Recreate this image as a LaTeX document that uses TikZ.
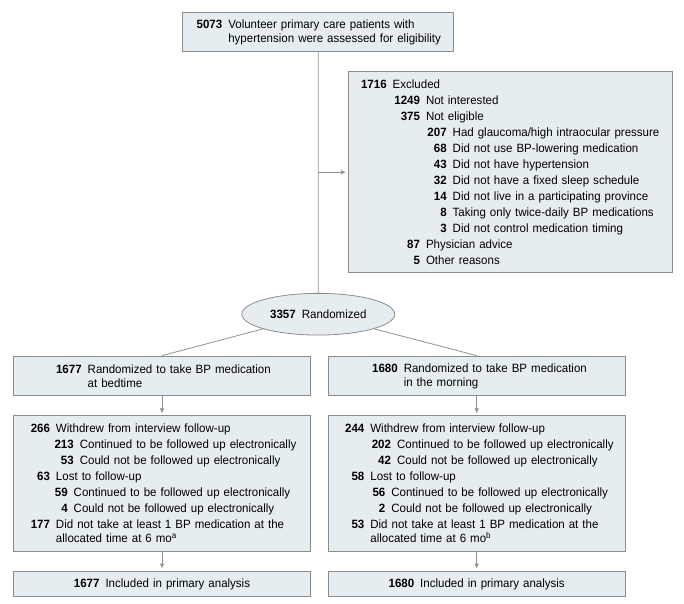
\documentclass[tikz,border=0pt]{standalone}
\usepackage{fontspec}
\setmainfont{Liberation Sans}[FakeStretch=0.96]
\usetikzlibrary{arrows.meta,shapes.geometric}
\definecolor{boxfill}{HTML}{E6EDF1}
\definecolor{boxline}{HTML}{8C8C8C}
\definecolor{wire}{HTML}{909090}
\newcommand{\chartfont}{\fontsize{12bp}{14bp}\selectfont}
% bold count, right-aligned at #1 from the box edge
\newcommand{\nr}[2]{\makebox[#1][r]{\textbf{#2}}\hspace{6bp}}
\begin{document}
\begin{tikzpicture}[x=1bp,y=-1bp,
    box/.style={draw=boxline,fill=boxfill,line width=0.8bp,inner xsep=0pt,inner ysep=0pt,align=left,font=\chartfont},
    line/.style={draw=wire,line width=0.8bp},
    arr/.style={line,-{Latex[length=5bp,width=4.5bp]},shorten >=2bp}]
  \useasboundingbox (0,0) rectangle (684,604);
  \node[box,text width=271bp,minimum height=38.3bp] (screen) at (318.2,31.9)
    {\nr{39.6bp}{5073}Volunteer primary care patients with\\
     \hspace*{45.6bp}hypertension were assessed for eligibility};
  \node[box,text width=324bp,minimum height=201bp] (excl) at (510.3,172.2)
    {\nr{38.4bp}{1716}Excluded\\[2bp]
     \nr{71.7bp}{1249}Not interested\\[2bp]
     \nr{71.7bp}{375}Not eligible\\[2bp]
     \nr{98.4bp}{207}Had glaucoma/high intraocular pressure\\[2bp]
     \nr{98.4bp}{68}Did not use BP-lowering medication\\[2bp]
     \nr{98.4bp}{43}Did not have hypertension\\[2bp]
     \nr{98.4bp}{32}Did not have a fixed sleep schedule\\[2bp]
     \nr{98.4bp}{14}Did not live in a participating province\\[2bp]
     \nr{98.4bp}{8}Taking only twice-daily BP medications\\[2bp]
     \nr{98.4bp}{3}Did not control medication timing\\[2bp]
     \nr{71.7bp}{87}Physician advice\\[2bp]
     \nr{71.7bp}{5}Other reasons};
  \node[box,ellipse,align=center,minimum width=153bp,minimum height=41.7bp] (rand) at (318.3,314.2)
    {\textbf{3357}\hspace{6bp}Randomized};
  \node[box,text width=297.4bp,minimum height=39.7bp] (bed) at (162,375.9)
    {\nr{68.4bp}{1677}Randomized to take BP medication\\
     \hspace*{74.4bp}at bedtime};
  \node[box,text width=296.7bp,minimum height=39.7bp] (morn) at (476.7,375.9)
    {\nr{69.4bp}{1680}Randomized to take BP medication\\
     \hspace*{75.4bp}in the morning};
  \node[box,text width=297.4bp,minimum height=135.3bp] (bedfu) at (162,483.4)
    {\nr{36.7bp}{266}Withdrew from interview follow-up\\[2bp]
     \nr{60.5bp}{213}Continued to be followed up electronically\\[2bp]
     \nr{60.5bp}{53}Could not be followed up electronically\\[2bp]
     \nr{36.7bp}{63}Lost to follow-up\\[2bp]
     \nr{54.4bp}{59}Continued to be followed up electronically\\[2bp]
     \nr{54.4bp}{4}Could not be followed up electronically\\[2bp]
     \nr{36.7bp}{177}Did not take at least 1 BP medication at the\\
     \hspace*{42.7bp}allocated time at 6 mo\textsuperscript{a}};
  \node[box,text width=296.7bp,minimum height=135.3bp] (mornfu) at (476.7,483.4)
    {\nr{36bp}{244}Withdrew from interview follow-up\\[2bp]
     \nr{62.7bp}{202}Continued to be followed up electronically\\[2bp]
     \nr{62.7bp}{42}Could not be followed up electronically\\[2bp]
     \nr{36bp}{58}Lost to follow-up\\[2bp]
     \nr{57bp}{56}Continued to be followed up electronically\\[2bp]
     \nr{57bp}{2}Could not be followed up electronically\\[2bp]
     \nr{36bp}{53}Did not take at least 1 BP medication at the\\
     \hspace*{42bp}allocated time at 6 mo\textsuperscript{b}};
  \node[box,align=center,text width=297.4bp,minimum height=25.7bp] (bedan) at (162,583.9)
    {\textbf{1677}\hspace{6bp}Included in primary analysis};
  \node[box,align=center,text width=296.7bp,minimum height=25.7bp] (mornan) at (476.7,583.9)
    {\textbf{1680}\hspace{6bp}Included in primary analysis};
  \coordinate (split) at (screen.south |- excl.west);
  \draw[line] (screen) -- (rand);
  \draw[arr] (split) -- (excl);
  \draw[line] (rand) -- (bed.north);
  \draw[line] (rand) -- (morn.north);
  \draw[arr] (bed) -- (bedfu);
  \draw[arr] (morn) -- (mornfu);
  \draw[arr] (bedfu) -- (bedan);
  \draw[arr] (mornfu) -- (mornan);
\end{tikzpicture}
\end{document}
